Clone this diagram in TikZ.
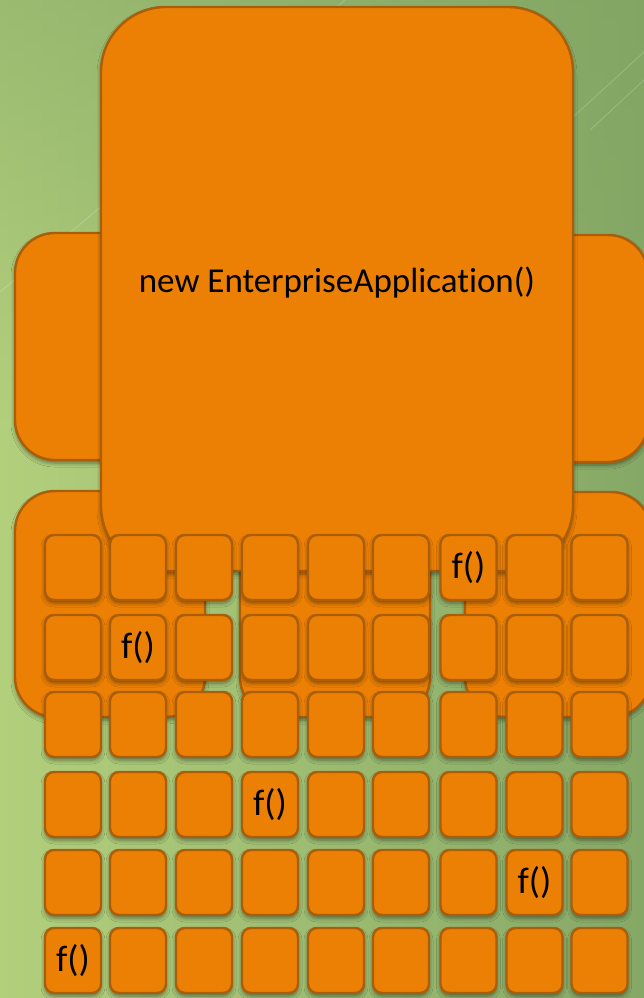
\documentclass[tikz,border=0pt]{standalone}
\usepackage{fontspec}
\setmainfont{Carlito}[Ligatures=NoCommon]
\usetikzlibrary{shadows.blur,fadings}
\definecolor{boxfill}{HTML}{EC8005}
\definecolor{boxline}{HTML}{AA5E0A}
\definecolor{bgL}{HTML}{B2CF7C}
\definecolor{bgR}{HTML}{86A866}
\definecolor{bgTop}{HTML}{7FA363}
\begin{document}
\begin{tikzpicture}[x=1pt,y=-1pt,
  panel/.style={draw=boxline, fill=boxfill, line width=2.4pt, inner sep=0pt,
    blur shadow={shadow xshift=0pt, shadow yshift=-3pt, shadow blur radius=4pt, shadow opacity=45}},
  layer/.style={panel, rounded corners=40pt},
  cell/.style={panel, rounded corners=9pt, minimum width=56pt, minimum height=65pt,
    font=\fontsize{37}{37}\selectfont},
  glint/.style={white, opacity=0.18, line width=1pt}
]
\useasboundingbox (0,0) rectangle (644,998);
\clip (0,0) rectangle (644,998);
% background
\fill[left color=bgL, right color=bgR] (0,0) rectangle (644,998);
\fill[bgTop, path fading=south, opacity=0.45] (0,0) rectangle (644,420);
\draw[glint] (0,292) -- (345,0);
\draw[glint] (548,140) -- (644,52);
\draw[glint] (590,130) -- (644,80);
% side layers
\node[layer, minimum width=185pt, minimum height=227pt] (lefttop) at (107.5,346.5) {};
\node[layer, minimum width=180pt, minimum height=227pt] (righttop) at (558,348.5) {};
\node[layer, minimum width=190pt, minimum height=226pt] (leftbot) at (110,604) {};
\node[layer, minimum width=190pt, minimum height=226pt] (midbot) at (335,604) {};
\node[layer, minimum width=186pt, minimum height=225pt] (rightbot) at (558,604.5) {};
% main box
\node[panel, rounded corners=65pt, minimum width=472pt, minimum height=564pt,
  text height=20pt, text depth=14pt,
  font=\fontsize{35}{35}\selectfont] (app) at (337,289) {new EnterpriseApplication()};
% grid of functions
\foreach \r/\y in {1/567.5,2/647.5,3/724.5,4/804.5,5/882.5,6/960.5}{
  \foreach \c/\x in {1/73,2/138,3/204,4/270,5/336,6/401,7/468.5,8/534.5,9/599.5}{
    \def\txt{}
    \ifnum\r\c=17 \def\txt{f()}\fi
    \ifnum\r\c=22 \def\txt{f()}\fi
    \ifnum\r\c=44 \def\txt{f()}\fi
    \ifnum\r\c=58 \def\txt{f()}\fi
    \ifnum\r\c=61 \def\txt{f()}\fi
    \node[cell] (c-\r-\c) at (\x,\y) {\txt};
  }
}
\end{tikzpicture}
\end{document}
